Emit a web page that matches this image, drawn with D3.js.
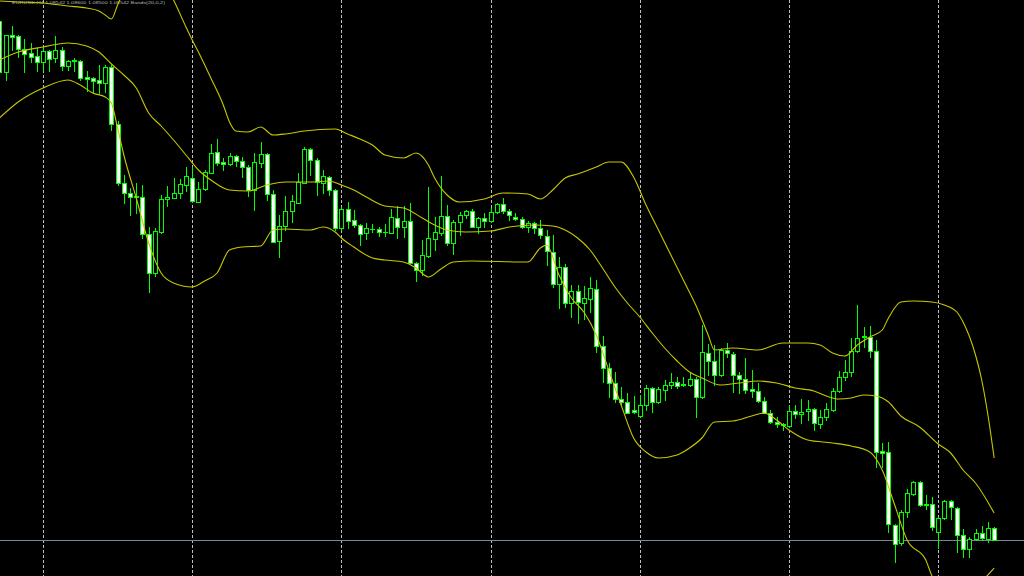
<!DOCTYPE html>
<html><head><meta charset="utf-8">
<script src="https://cdn.jsdelivr.net/npm/d3@7/dist/d3.min.js"></script>
<style>html,body{margin:0;padding:0;background:#000;overflow:hidden}</style>
</head><body>
<svg id="chart" width="1024" height="576"></svg>
<script>
// ---- data (prices in points) ----
const openP = [
979,928,965,964,951,947,944,938,949,942,
950,934,939,939,923,922,920,917,933,876,
817,807,804,803,766,727,768,801,802,807,
815,822,798,811,827,848,838,836,844,839,
833,810,837,846,806,759,774,789,797,817,
851,840,817,823,810,772,791,780,775,767,
771,771,768,767,782,773,779,737,730,744,
761,767,784,757,778,785,789,773,782,779,
788,796,789,783,781,773,777,772,764,748,
716,733,697,709,697,701,711,654,632,617,
601,598,590,584,595,612,598,610,615,618,
616,615,621,603,647,639,625,650,646,625,
621,611,609,599,587,578,575,574,589,586,
589,591,576,583,590,609,623,628,649,664,
663,649,549,548,475,457,488,506,518,496,
496,468,482,499,492,465,451,461,467,461,
472];
const highP = [
981,965,974,965,961,957,952,953,950,964,
953,940,942,940,929,923,935,935,935,879,
825,812,817,815,773,772,805,814,822,821,
833,833,818,830,856,861,842,847,845,843,
835,847,858,847,810,785,804,805,827,853,
852,842,830,824,811,793,798,790,776,777,
776,773,776,791,794,794,797,738,760,813,
783,824,795,780,788,790,791,783,787,792,
797,802,791,787,783,779,778,780,770,765,
743,736,715,715,714,723,720,664,637,628,
613,607,604,605,615,613,613,620,627,623,
623,628,623,675,656,655,652,657,648,628,
642,630,617,603,590,583,577,594,595,601,
600,592,590,597,612,629,640,662,695,673,
674,660,557,558,476,490,511,519,519,505,
503,483,500,500,493,471,463,471,474,478,
473];
const lowP = [
926,920,950,943,928,938,929,930,929,938,
930,930,929,920,909,907,907,908,870,815,
797,785,787,762,708,724,767,794,802,802,
809,798,798,810,827,835,830,835,834,823,
804,790,833,800,758,743,770,778,797,817,
825,805,807,805,770,770,772,773,755,761,
768,764,764,767,762,763,737,719,725,743,
750,765,755,746,765,782,773,767,773,778,
787,787,780,780,772,768,767,762,735,713,
692,693,683,677,681,688,648,618,603,598,
596,587,587,583,590,588,597,600,612,612,
614,614,583,602,625,615,624,643,608,607,
607,603,598,587,577,573,570,573,582,577,
580,570,572,580,589,608,620,624,648,653,
643,533,533,468,438,455,483,505,494,491,
470,452,481,481,448,443,443,460,460,458,
460];
const closeP = [
928,965,963,951,946,943,938,949,941,950,
934,939,940,922,921,919,917,933,876,817,
807,803,803,766,727,769,801,803,807,816,
824,799,811,828,847,837,836,844,839,833,
810,838,846,806,758,774,789,799,818,851,
840,818,824,810,772,791,779,775,766,772,
771,768,768,783,773,779,737,730,745,762,
768,784,757,778,785,789,773,782,779,788,
796,789,785,781,773,777,772,765,749,716,
733,697,709,698,702,712,654,632,617,601,
598,587,588,595,612,598,611,615,618,614,
615,621,603,648,639,625,650,647,625,621,
610,609,599,587,578,576,576,589,586,588,
591,577,583,591,609,623,628,649,662,663,
649,548,547,476,456,488,507,518,495,495,
473,482,499,493,465,451,461,467,462,472,
460];
// Bollinger bands: [bar index, value]
const upperBand = [[0,999],[3,998],[7,997],[11,994],[14,992],[16,989],[17,985],[18,981],[19,995],[20,1008],[22,1018],[25,1025],[27,1012],[28,1000],[30,973],[31,960],[32,948],[34,922],[36,895],[37,878],[38,869],[40,868],[42,873],[44,865],[46,866],[49,869],[54,871],[56,866],[58,861],[60,855],[62,845],[65,842],[67,847],[69,835],[70,822],[72,805],[74,798],[78,801],[81,807],[85,806],[87,801],[89,810],[91,822],[93,826],[96,833],[98,838],[100,838],[102,823],[104,795],[106,770],[108,745],[110,720],[112,695],[114,665],[115,650],[118,652],[122,650],[126,657],[130,657],[132,655],[134,647],[136,644],[138,655],[140,663],[142,670],[143,682],[145,698],[147,699],[150,698],[152,695],[154,688],[155,678],[157,645],[158,620],[159,585],[160,542]];
const middleBand = [[0,940],[3,948],[7,953],[11,957],[14,954],[16,948],[18,936],[20,925],[22,912],[24,887],[26,874],[28,860],[30,845],[32,830],[34,820],[37,810],[40,809],[43,815],[46,818],[50,818],[53,819],[55,815],[57,810],[59,803],[62,794],[65,792],[68,782],[70,775],[72,770],[75,768],[79,769],[82,773],[86,775],[89,774],[91,770],[93,762],[95,750],[97,732],[99,713],[101,697],[103,683],[105,667],[107,652],[109,639],[111,628],[113,622],[116,615],[119,617],[122,619],[125,617],[128,612],[131,609],[133,604],[135,601],[137,602],[139,605],[141,604],[143,598],[145,584],[148,573],[151,556],[153,547],[155,530],[157,517],[160,487]];
const lowerBand = [[0,882],[3,898],[7,912],[11,920],[13,915],[15,907],[17,903],[18,897],[19,872],[20,845],[22,802],[24,757],[26,727],[28,717],[31,713],[33,719],[35,727],[37,750],[39,753],[42,754],[44,770],[46,771],[50,770],[52,773],[54,768],[55,762],[57,753],[60,742],[62,740],[65,738],[67,732],[69,723],[71,731],[73,738],[76,739],[85,738],[87,752],[88,755],[90,725],[92,702],[94,688],[96,665],[98,630],[100,595],[102,562],[104,548],[106,542],[109,545],[111,552],[113,562],[115,578],[118,579],[121,584],[123,587],[125,580],[127,570],[130,560],[134,557],[137,554],[140,548],[142,530],[144,495],[146,460],[149,440],[150,424],[152,408],[154,400],[156,402],[158,418],[160,432]];
const gridBars = [7,31,55,79,103,127,151];
const headerText = "EURUSD,H4  1.08542 1.08600 1.08500 1.08542   Bands(20,0,2)";

// ---- drawing ----
const W = 1024, H = 576;
const svg = d3.select("#chart");
svg.append("rect").attr("width", W).attr("height", H).attr("fill", "#000");

const x = d3.scaleLinear().domain([7, 151]).range([43, 938.2]);
const y = d3.scaleLinear().domain([424, 1000]).range([H, 0]);
const px = i => Math.round(x(i));

// grid
svg.append("g").selectAll("line").data(gridBars).join("line")
  .attr("x1", d => px(d) + 0.5).attr("x2", d => px(d) + 0.5)
  .attr("y1", 0).attr("y2", H)
  .attr("stroke", "#c0c0c0").attr("stroke-width", 1)
  .attr("stroke-dasharray", "3,2");

// header (tiny line of text along the top edge)
svg.append("text").attr("x", 12).attr("y", 3.5)
  .attr("font-family", "'Liberation Sans', Arial, sans-serif").attr("font-size", 4)
  .attr("textLength", 153).attr("lengthAdjust", "spacingAndGlyphs")
  .attr("fill", "#b8b8b8").text(headerText);

// bid line
const lastClose = closeP[closeP.length - 1];
svg.append("line").attr("x1", 0).attr("x2", W)
  .attr("y1", Math.round(y(lastClose)) + 0.5).attr("y2", Math.round(y(lastClose)) + 0.5)
  .attr("stroke", "#778899").attr("stroke-width", 1);

// candles
const bars = d3.range(openP.length).map(i => ({i, o: openP[i], h: highP[i], l: lowP[i], c: closeP[i]}));
const g = svg.append("g");
g.selectAll("line.wick").data(bars).join("line").attr("class", "wick")
  .attr("x1", d => px(d.i) + 0.5).attr("x2", d => px(d.i) + 0.5)
  .attr("y1", d => Math.round(y(d.h))).attr("y2", d => Math.round(y(d.l)) + 1)
  .attr("stroke", "#00ff00").attr("stroke-width", 1);
g.selectAll("rect.body").data(bars.filter(d => d.o !== d.c)).join("rect").attr("class", "body")
  .attr("x", d => px(d.i) - 1.5)
  .attr("y", d => Math.round(y(Math.max(d.o, d.c))) + 0.5)
  .attr("width", 4)
  .attr("height", d => Math.max(1, Math.round(Math.abs(y(d.o) - y(d.c)))))
  .attr("fill", d => d.c < d.o ? "#ffffff" : "#000000")
  .attr("stroke", "#00ff00").attr("stroke-width", 1);
g.selectAll("line.doji").data(bars.filter(d => d.o === d.c)).join("line").attr("class", "doji")
  .attr("x1", d => px(d.i) - 2).attr("x2", d => px(d.i) + 3)
  .attr("y1", d => Math.round(y(d.o)) + 0.5).attr("y2", d => Math.round(y(d.o)) + 0.5)
  .attr("stroke", "#00ff00").attr("stroke-width", 1);

// bands
const line = d3.line().x(d => x(d[0])).y(d => y(d[1])).curve(d3.curveMonotoneX);
[upperBand, middleBand, lowerBand].forEach(b => {
  svg.append("path").attr("d", line(b)).attr("fill", "none")
    .attr("stroke", "#c8c800").attr("stroke-width", 1.1);
});
</script>
</body></html>
